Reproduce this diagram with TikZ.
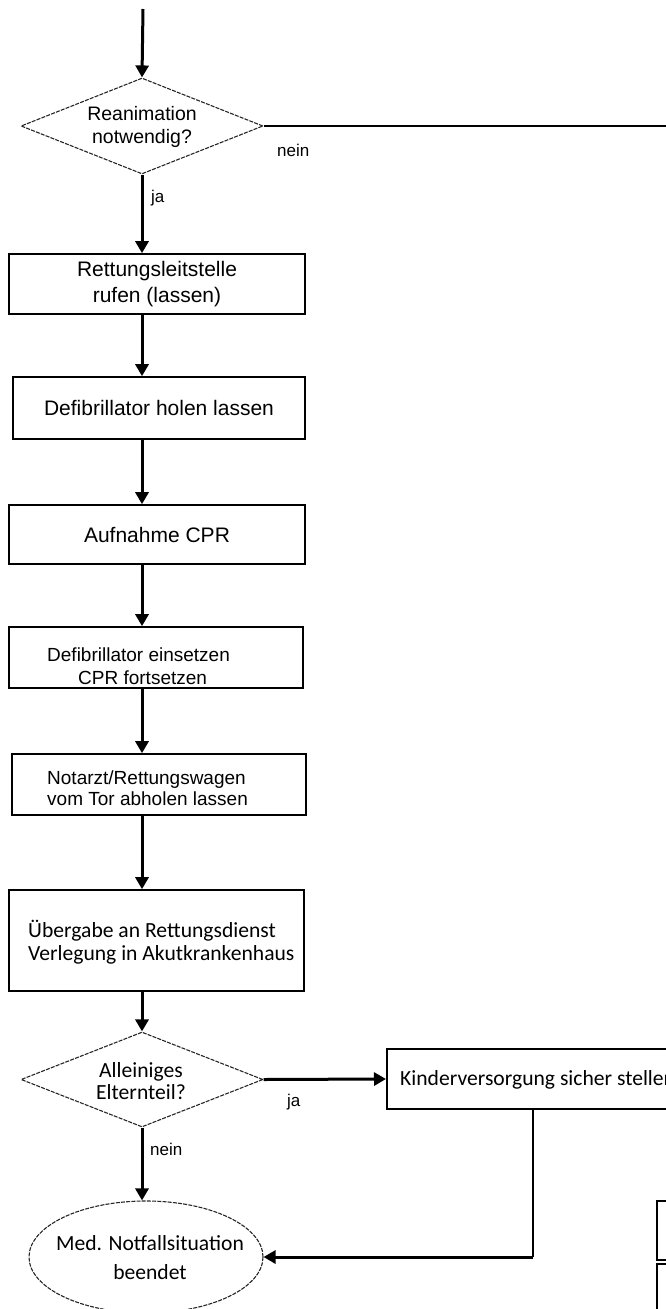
\documentclass[tikz,border=0pt]{standalone}
\usepackage{fontspec}
\setmainfont{Liberation Sans}
\newfontfamily\calib{Carlito}
\usetikzlibrary{shapes.geometric,arrows.meta}
\begin{document}
\begin{tikzpicture}[x=1pt,y=-1pt,
  box/.style={draw, line width=1.6pt, rectangle, inner sep=0pt},
  dec/.style={draw=black!85, line width=1.1pt, dash pattern=on 4pt off 1.2pt, shape=diamond, inner sep=0pt},
  term/.style={draw=black!85, line width=1.1pt, dash pattern=on 4pt off 1.2pt, shape=ellipse, inner sep=0pt},
  arr/.style={line width=3pt, -{Triangle[length=12pt,width=13pt]}},
  thinline/.style={line width=1.6pt},
  txt/.style={inner sep=0pt, align=left},
  lab/.style={anchor=west, inner sep=0pt, font=\fontsize{17}{19}\selectfont},
  fA/.style={font=\fontsize{21}{26}\selectfont, align=center},
  fB/.style={font=\fontsize{19}{23}\selectfont},
  fC/.style={font=\calib\fontsize{21.6}{23}\selectfont},
]
\useasboundingbox (0,0) rectangle (666,1309);
\clip (0,0) rectangle (666,1309);

% top decision
\coordinate (start) at (143,9);
\node[dec, minimum width=242pt, minimum height=96pt] (d1) at (142,126) {};
\node[inner sep=0pt, align=center, font=\fontsize{19.5}{23}\selectfont] (d1t) at (142,127) {Reanimation\\notwendig?};
\coordinate (exitR) at (670,126);

% boxes
\node[box, fA, minimum width=296pt, minimum height=60pt] (b1) at (157,284) {Rettungsleitstelle\\rufen (lassen)};
\node[box, fA, minimum width=292pt, minimum height=62pt] (b2) at (159,408) {Defibrillator holen lassen};
\node[box, fA, minimum width=296pt, minimum height=59pt] (b3) at (157,534.5) {Aufnahme CPR};
\node[box, minimum width=294pt, minimum height=61pt] (b4) at (156,657.5) {};
\node[txt, fB, anchor=west] (b4t) at (47,666) {Defibrillator einsetzen\\\hspace*{31pt}CPR fortsetzen};
\node[box, minimum width=294pt, minimum height=61pt] (b5) at (159,784.5) {};
\node[txt, font=\fontsize{19}{21}\selectfont, anchor=west] (b5t) at (47,788) {Notarzt/Rettungswagen\\vom Tor abholen lassen};
\node[box, minimum width=295pt, minimum height=101pt] (b6) at (156.5,940.5) {};
\node[txt, fC, anchor=west] (b6t) at (28,942) {Übergabe an Rettungsdienst\\Verlegung in Akutkrankenhaus};

% second decision
\node[dec, minimum width=242pt, minimum height=95pt] (d2) at (142,1079.5) {};
\node[inner sep=0pt, align=center, font=\calib\fontsize{21.6}{22}\selectfont] (d2t) at (141,1081) {Alleiniges\\Elternteil?};

% child care box
\node[box, anchor=west, minimum width=330pt, minimum height=60pt] (k) at (386,1079) {};
\node[txt, fC, anchor=west] (kt) at (400,1080) {Kinderversorgung sicher stellen};

% end
\node[term, minimum width=234pt, minimum height=112pt] (e) at (146,1257) {};
\node[inner sep=0pt, align=center, font=\calib\fontsize{21.6}{29}\selectfont] (et) at (150,1258) {Med. Notfallsituation\\beendet};

% right boxes (cut off)
\node[box, anchor=north west, minimum width=100pt, minimum height=59pt] (r1) at (656,1200) {};
\node[box, anchor=north west, minimum width=100pt, minimum height=90pt] (r2) at (656,1263) {};

% connectors
\draw[arr] (start) -- (d1.north);
\draw[thinline] (d1.east) -- (exitR);
\node[lab] (nein1) at (277,150) {nein};
\draw[arr] (d1.south) -- (b1.north -| d1.south);
\node[lab] (ja1) at (151,198) {ja};
\draw[arr] (b1.south -| d1.south) -- (b2.north -| d1.south);
\draw[arr] (b2.south -| d1.south) -- (b3.north -| d1.south);
\draw[arr] (b3.south -| d1.south) -- (b4.north -| d1.south);
\draw[arr] (b4.south -| d1.south) -- (b5.north -| d1.south);
\draw[arr] (b5.south -| d1.south) -- (b6.north -| d1.south);
\draw[arr] (b6.south -| d2.north) -- (d2.north);
\draw[arr] (d2.east) -- (k.west);
\node[lab] (ja2) at (287,1102) {ja};
\draw[arr] (d2.south) -- (e.north -| d2.south);
\node[lab] (nein2) at (150,1149) {nein};
\coordinate (kb) at ([xshift=147pt]k.south west);
\coordinate (corner) at (kb |- e.east);
\draw[thinline] (kb) -- (corner);
\draw[arr] (corner) -- (e.east);
\end{tikzpicture}
\end{document}
